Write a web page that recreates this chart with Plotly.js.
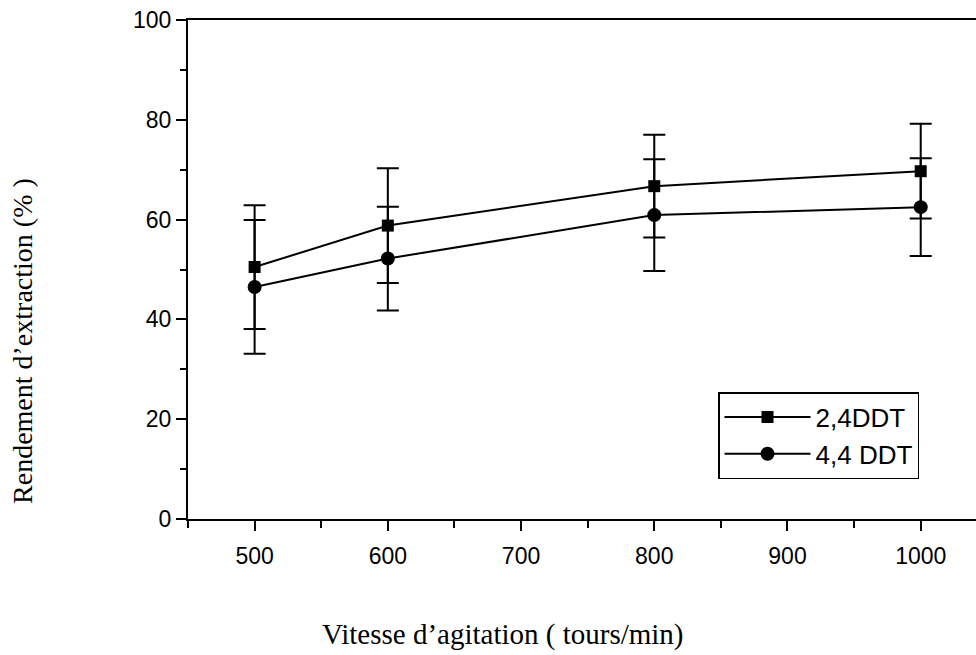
<!DOCTYPE html>
<html>
<head>
<meta charset="utf-8">
<script src="https://cdn.plot.ly/plotly-3.0.1.min.js"></script>
<style>html,body{margin:0;padding:0;background:#fff;}#chart{width:976px;height:655px;}</style>
</head>
<body>
<div id="chart"></div>
<script>
var speeds = [500, 600, 800, 1000];
var ddt24 = [50.5, 58.8, 66.7, 69.7];
var ddt24Err = [12.4, 11.5, 10.3, 9.5];
var ddt44 = [46.5, 52.2, 60.9, 62.5];
var ddt44Err = [13.4, 10.4, 11.2, 9.8];
var seriesNames = ['2,4DDT', '4,4 DDT'];
var xTitle = 'Vitesse d\u2019agitation ( tours/min)';
var yTitle = 'Rendement d\u2019extraction (% )';

var traces = [
  {
    x: speeds, y: ddt24, name: seriesNames[0], type: 'scatter', mode: 'lines+markers',
    line: {color: '#000', width: 2},
    marker: {symbol: 'square', size: 12, color: '#000'},
    error_y: {type: 'data', array: ddt24Err, visible: true, color: '#000', thickness: 2, width: 11}
  },
  {
    x: speeds, y: ddt44, name: seriesNames[1], type: 'scatter', mode: 'lines+markers',
    line: {color: '#000', width: 2},
    marker: {symbol: 'circle', size: 14, color: '#000'},
    error_y: {type: 'data', array: ddt44Err, visible: true, color: '#000', thickness: 2, width: 11}
  }
];

var layout = {
  width: 976, height: 655,
  margin: {l: 188, r: 0, t: 20, b: 136},
  paper_bgcolor: '#fff', plot_bgcolor: '#fff',
  font: {family: 'Liberation Sans, Arial, sans-serif', size: 23, color: '#000'},
  showlegend: true,
  legend: {
    x: 0.6726, y: 0.2545, xanchor: 'left', yanchor: 'top',
    bordercolor: '#000', borderwidth: 1.5, bgcolor: '#fff',
    font: {family: 'Liberation Sans, Arial, sans-serif', size: 26, color: '#000'},
    itemwidth: 86,
    tracegroupgap: 0
  },
  xaxis: {
    range: [450, 1041.5], tick0: 500, dtick: 100,
    showgrid: false, zeroline: false,
    showline: true, linecolor: '#000', linewidth: 2, mirror: true,
    ticks: 'outside', ticklen: 10, tickwidth: 2, tickcolor: '#000',
    ticklabelstandoff: 5,
    minor: {dtick: 50, ticks: 'outside', ticklen: 7, tickwidth: 2, tickcolor: '#000', showgrid: false},
    tickfont: {size: 23}
  },
  yaxis: {
    range: [0, 100], dtick: 20,
    showgrid: false, zeroline: false,
    showline: true, linecolor: '#000', linewidth: 2, mirror: false,
    ticks: 'outside', ticklen: 10, tickwidth: 2, tickcolor: '#000',
    minor: {dtick: 10, ticks: 'outside', ticklen: 6, tickwidth: 2, tickcolor: '#000', showgrid: false},
    tickfont: {size: 23}
  },
  annotations: [
    {text: xTitle, xref: 'paper', yref: 'paper', x: 0.3997, y: -0.2305,
     xanchor: 'center', yanchor: 'middle', showarrow: false,
     font: {family: 'Liberation Serif, Times New Roman, serif', size: 29, color: '#000'}},
    {text: yTitle, xref: 'paper', yref: 'paper', x: -0.2107, y: 0.3567, textangle: -90,
     xanchor: 'center', yanchor: 'middle', showarrow: false,
     font: {family: 'Liberation Serif, Times New Roman, serif', size: 28, color: '#000'}}
  ]
};

Plotly.newPlot('chart', traces, layout, {staticPlot: true, displayModeBar: false});
</script>
</body>
</html>
